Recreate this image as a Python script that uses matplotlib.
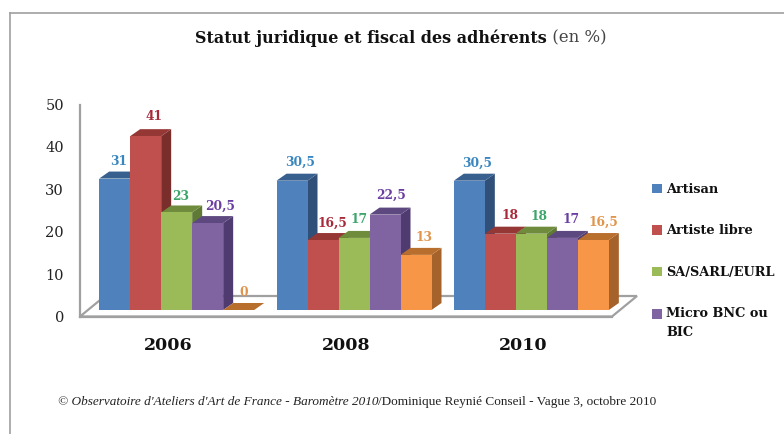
import matplotlib
matplotlib.use('Agg')
import matplotlib.pyplot as plt
from matplotlib.lines import Line2D
from matplotlib.patches import Patch, Polygon
from matplotlib.transforms import Affine2D

# Data
years = ['2006', '2008', '2010']
series = ['Artisan', 'Artiste libre', 'SA/SARL/EURL', 'Micro BNC ou\nBIC', 'Autre']
artisan = [31, 30.5, 30.5]
artiste_libre = [41, 16.5, 18]
sa_sarl_eurl = [23, 17, 18]
micro_bnc = [20.5, 22.5, 17]
orange_series = [0, 13, 16.5]
values = [artisan, artiste_libre, sa_sarl_eurl, micro_bnc, orange_series]
yticks = [0, 10, 20, 30, 40, 50]

# Colours: front, side, top, label
front_colors = ['#4F81BD', '#C0504D', '#9BBB59', '#8064A2', '#F79646']
side_colors = ['#30507A', '#7A2E2C', '#5F7A35', '#4F3B70', '#A5622A']
top_colors = ['#38608F', '#953735', '#6F8C3C', '#5E4880', '#B86E2C']
label_colors = ['#3A86BE', '#A82A3A', '#3CA56A', '#6B3FA0', '#E0944C']

W, H = 784, 434
fig = plt.figure(figsize=(W / 100, H / 100), dpi=100, facecolor='white')
ax = fig.add_axes([80 / W, (H - 316.5) / H, 532 / W, 212 / H])
ax.set_xlim(-0.5, 2.5)
ax.set_ylim(0, 50)
ax.patch.set_alpha(0)

px_x = 3 / 532   # data units per pixel
px_y = 50 / 212

# Floor and walls
floor_dx, floor_dy = 25 * px_x, 20.5 * px_y
ax.add_patch(Polygon([(-0.5, 0), (2.5, 0), (2.5 + floor_dx, floor_dy), (-0.5 + floor_dx, floor_dy)],
                     closed=True, facecolor='white', edgecolor='#A0A0A0', linewidth=1.6,
                     clip_on=False, zorder=1))
for name in ['top', 'right']:
    ax.spines[name].set_visible(False)
for name in ['left', 'bottom']:
    ax.spines[name].set_color('#A0A0A0')
    ax.spines[name].set_linewidth(1.6)
    ax.spines[name].set_zorder(1.5)

# Bars sit a little behind the front edge of the floor
front = ax.transData + Affine2D().translate(8, 6.5)
bar_w = 31 * px_x
depth_x, depth_y = 10 * px_x, 7 * px_y

# Label nudges in pixels from the top centre of each bar front
nudge_x = [[4, 8, 4, 12.5, 5], [8, 9, 5, 6, 8], [8, 10, 8, 9, 10]]
nudge_y = [[17, 20, 16, 17, 18], [18, 17, 18, 19, 17], [17, 18, 17, 18, 18]]

zo = 2
for g in range(len(years)):
    for s in range(len(series)):
        v = values[s][g]
        x0 = g + (s - 2.5) * bar_w
        x1 = x0 + bar_w
        ax.bar(x0, v, width=bar_w, align='edge', color=front_colors[s], linewidth=0,
               transform=front, clip_on=False, zorder=zo + 2)
        ax.add_patch(Polygon([(x1, 0), (x1 + depth_x, depth_y), (x1 + depth_x, v + depth_y), (x1, v)],
                             facecolor=side_colors[s], linewidth=0, transform=front,
                             clip_on=False, zorder=zo))
        ax.add_patch(Polygon([(x0, v), (x1, v), (x1 + depth_x, v + depth_y), (x0 + depth_x, v + depth_y)],
                             facecolor=top_colors[s], linewidth=0, transform=front,
                             clip_on=False, zorder=zo + 1))
        zo += 3
        ax.annotate(str(v).replace('.', ','), (x0 + bar_w / 2, v), xycoords=front,
                    xytext=(nudge_x[g][s] * 0.72, nudge_y[g][s] * 0.72), textcoords='offset points',
                    ha='center', va='center', color=label_colors[s], fontsize=8.8,
                    fontfamily='DejaVu Serif', fontweight='bold', zorder=200)

# Axes ticks and labels
ax.set_xticks(range(len(years)))
ax.set_xticklabels(years, fontfamily='DejaVu Serif', fontweight='bold', fontsize=12.5, color='#111111')
ax.set_yticks(yticks)
ax.set_yticklabels([str(t) for t in yticks], fontfamily='DejaVu Serif', fontsize=10.5, color='#222222')
ax.tick_params(axis='x', length=0, pad=15)
ax.tick_params(axis='y', length=0, pad=11.5)

# Legend, the last series is cut off in the original
handles = [Patch(facecolor=front_colors[s], label=series[s]) for s in range(4)]
leg = fig.legend(handles=handles, loc='upper left', bbox_to_anchor=(652 / W, 1 - 183 / H), frameon=False,
                 prop={'family': 'DejaVu Serif', 'weight': 'bold', 'size': 9.3}, handlelength=0.75,
                 handleheight=0.75, handletextpad=0.35, labelspacing=2.2, borderpad=0, borderaxespad=0,
                 labelcolor='#111111')
leg.get_texts()[3].set_linespacing(1.55)
# Two-line entry: square goes with the first line
last = leg.legend_handles[3]
last.set_y(last.get_y() + 7)

# Title, bold part then regular part
title = fig.text(195 / W, 1 - 38 / H, 'Statut juridique et fiscal des adhérents', fontfamily='DejaVu Serif',
                 fontweight='bold', fontsize=11.5, va='center', color='#111111')
ax.annotate(' (en %)', xy=(1, 0), xycoords=title, xytext=(0, 0), textcoords='offset points', va='bottom',
            fontfamily='DejaVu Serif', fontsize=12, color='#444444', annotation_clip=False)

# Source line
source = fig.text(58 / W, 1 - 402 / H, "© Observatoire d'Ateliers d'Art de France - Baromètre 2010",
                  fontfamily='Liberation Serif', fontstyle='italic', fontsize=9.55, va='center', color='#222222')
ax.annotate('/Dominique Reynié Conseil - Vague 3, octobre 2010', xy=(1, 0), xycoords=source, xytext=(0, 0),
            textcoords='offset points', va='bottom', fontfamily='Liberation Serif', fontsize=9.55,
            color='#222222', annotation_clip=False)

# Frame of the scanned page
fig.add_artist(Line2D([9.5 / W, 9.5 / W], [0, 1 - 13 / H], color='#A0A0A0', linewidth=1.2))
fig.add_artist(Line2D([9.5 / W, 1], [1 - 13 / H, 1 - 13 / H], color='#A0A0A0', linewidth=1.2))

fig.savefig('out.png', dpi=100)
